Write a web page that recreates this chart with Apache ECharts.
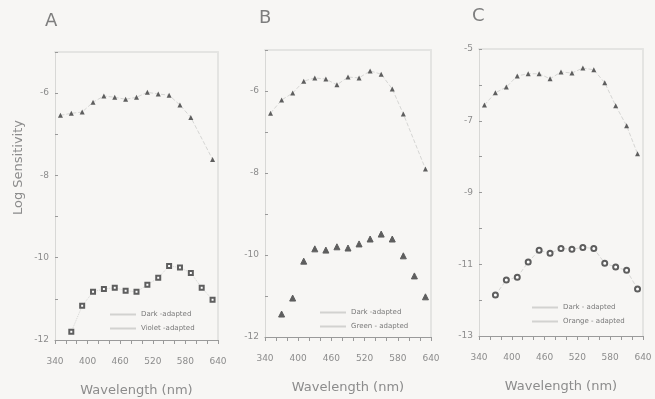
<!DOCTYPE html>
<html>
<head>
<meta charset="utf-8">
<script src="https://cdn.jsdelivr.net/npm/echarts@6/dist/echarts.min.js"></script>
<style>
  html, body { margin: 0; padding: 0; background: #f7f6f4; }
  #chart { width: 655px; height: 399px; }
</style>
</head>
<body>
<div id="chart"></div>
<script>
// data (wavelength in nm, log sensitivity)
var wlA_dark = [350, 370, 390, 410, 430, 450, 470, 490, 510, 530, 550, 570, 590, 630]
var valA_dark = [-6.54, -6.49, -6.46, -6.22, -6.07, -6.10, -6.15, -6.10, -5.98, -6.02, -6.05, -6.29, -6.59, -7.61]
var wlA_violet = [370, 390, 410, 430, 450, 470, 490, 510, 530, 550, 570, 590, 610, 630]
var valA_violet = [-11.80, -11.17, -10.83, -10.76, -10.73, -10.80, -10.83, -10.66, -10.49, -10.20, -10.24, -10.37, -10.73, -11.02]

var wlB_dark = [350, 370, 390, 410, 430, 450, 470, 490, 510, 530, 550, 570, 590, 630]
var valB_dark = [-6.54, -6.22, -6.05, -5.76, -5.68, -5.71, -5.85, -5.66, -5.68, -5.51, -5.59, -5.95, -6.56, -7.90]
var wlB_green = [370, 390, 410, 430, 450, 470, 490, 510, 530, 550, 570, 590, 610, 630]
var valB_green = [-11.44, -11.05, -10.15, -9.85, -9.88, -9.80, -9.83, -9.73, -9.61, -9.49, -9.61, -10.02, -10.51, -11.02]

var wlC_dark = [350, 370, 390, 410, 430, 450, 470, 490, 510, 530, 550, 570, 590, 610, 630]
var valC_dark = [-6.56, -6.22, -6.06, -5.75, -5.69, -5.69, -5.83, -5.64, -5.67, -5.53, -5.58, -5.94, -6.58, -7.14, -7.92]
var wlC_orange = [370, 390, 410, 430, 450, 470, 490, 510, 530, 550, 570, 590, 610, 630]
var valC_orange = [-11.86, -11.44, -11.36, -10.94, -10.61, -10.69, -10.56, -10.58, -10.53, -10.56, -10.97, -11.08, -11.17, -11.69]

var xLabels = [340, 400, 460, 520, 580, 640]
var xTicks = [340, 360, 380, 400, 420, 440, 460, 480, 500, 520, 540, 560, 580, 600, 620, 640]
var yLabelsAB = [-12, -10, -8, -6]
var yLabelsC = [-13, -11, -9, -7, -5]

var panelNames = ['A', 'B', 'C']
var legendNames = [['Dark -adapted', 'Violet -adapted'], ['Dark -adapted', 'Green - adapted'], ['Dark - adapted', 'Orange - adapted']]

function zip(xs, ys) {
    return xs.map(function(x, i) { return [x, ys[i]] })
}

var textCol = '#8c8c8c'
var markCol = '#5e5e5e'
var frameCol = '#e4e4e2'
var font = 'DejaVu Sans'

var grids = [
    { left: 55, right: 437, top: 52, bottom: 59, outerBoundsMode: 'none' },
    { left: 265, right: 224, top: 50, bottom: 62, outerBoundsMode: 'none' },
    { left: 479, right: 12, top: 49, bottom: 63, outerBoundsMode: 'none' }
]

var xAxes = [], yAxes = []
grids.forEach(function(g, i) {
    xAxes.push({
        type: 'value', gridIndex: i, min: 340, max: 640,
        name: 'Wavelength (nm)', nameLocation: 'middle', nameGap: 44,
        nameTextStyle: { color: textCol, fontSize: 13, fontFamily: font },
        axisLine: { lineStyle: { color: '#9a9a9a', width: 1 } },
        axisTick: { customValues: xTicks, length: 4, lineStyle: { color: '#9a9a9a' } },
        axisLabel: { customValues: xLabels, margin: 17, color: textCol, fontSize: 9, fontFamily: font },
        splitLine: { show: false }
    })
    // faint top border of the frame
    xAxes.push({
        type: 'value', gridIndex: i, position: 'top', min: 340, max: 640,
        axisLine: { show: true, lineStyle: { color: frameCol, width: 2 } },
        axisTick: { show: false }, axisLabel: { show: false }, splitLine: { show: false }
    })
    var isC = i == 2
    yAxes.push({
        type: 'value', gridIndex: i, min: isC ? -13 : -12, max: -5, interval: 1,
        axisLine: { show: true, lineStyle: { color: '#d8d8d6', width: 1 } },
        axisTick: { show: true, inside: true, length: 3, lineStyle: { color: '#9a9a9a' } },
        axisLabel: { customValues: isC ? yLabelsC : yLabelsAB, margin: 6, color: textCol, fontSize: 9, fontFamily: font },
        splitLine: { show: false }
    })
    // faint right border
    yAxes.push({
        type: 'value', gridIndex: i, position: 'right', min: isC ? -13 : -12, max: -5,
        axisLine: { show: true, lineStyle: { color: frameCol, width: 2 } },
        axisTick: { show: false }, axisLabel: { show: false }, splitLine: { show: false }
    })
})

function darkSeries(idx, data, name) {
    return {
        name: name, type: 'line', xAxisIndex: idx * 2, yAxisIndex: idx * 2,
        data: data, symbol: 'triangle', symbolSize: 5,
        itemStyle: { color: markCol },
        lineStyle: { color: '#d6d6d4', width: 1, type: 'dashed' },
        emphasis: { disabled: true }
    }
}

function lightSeries(idx, data, name, symbol, size, lineType) {
    return {
        name: name, type: 'line', xAxisIndex: idx * 2, yAxisIndex: idx * 2,
        data: data, symbol: symbol, symbolSize: size,
        itemStyle: { color: markCol, borderColor: markCol, borderWidth: 1 },
        lineStyle: { color: '#d6d6d4', width: 1, type: lineType },
        emphasis: { disabled: true }
    }
}

var series = [
    darkSeries(0, zip(wlA_dark, valA_dark), legendNames[0][0]),
    lightSeries(0, zip(wlA_violet, valA_violet), legendNames[0][1], 'emptyRect', 4, 'dotted'),
    darkSeries(1, zip(wlB_dark, valB_dark), legendNames[1][0] + ' '),
    lightSeries(1, zip(wlB_green, valB_green), legendNames[1][1], 'triangle', 6, [0, 100]),
    darkSeries(2, zip(wlC_dark, valC_dark), legendNames[2][0]),
    lightSeries(2, zip(wlC_orange, valC_orange), legendNames[2][1], 'emptyCircle', 5, 'dashed')
]

var legendPos = [[105, 306], [315, 304], [527, 299]]
var legendIcon = { color: '#d2d2d0', borderColor: '#d2d2d0', borderWidth: 0 }
var legends = legendPos.map(function(p, i) {
    var n = legendNames[i]
    return {
        left: p[0], top: p[1], orient: 'vertical', itemGap: 7,
        itemWidth: 26, itemHeight: 2, icon: 'rect', selectedMode: false,
        textStyle: { color: '#7a7a7a', fontSize: 7, fontFamily: font },
        data: [
            { name: i == 1 ? n[0] + ' ' : n[0], itemStyle: legendIcon },
            { name: n[1], itemStyle: legendIcon }
        ],
        formatter: function(name) { return name.trim() }
    }
})

var letterPos = [[45, 12], [259, 9], [472, 7]]
var graphics = letterPos.map(function(p, i) {
    return {
        type: 'text', left: p[0], top: p[1],
        style: { text: panelNames[i], fill: '#7e7e7e', font: '18px ' + font }
    }
})
graphics.push({
    type: 'text', left: 12, top: 120, rotation: Math.PI / 2,
    style: { text: 'Log Sensitivity', fill: textCol, font: '13px ' + font }
})

var chart = echarts.init(document.getElementById('chart'))
chart.setOption({
    backgroundColor: '#f7f6f4',
    animation: false,
    grid: grids,
    xAxis: xAxes,
    yAxis: yAxes,
    legend: legends,
    graphic: graphics,
    series: series
})
</script>
</body>
</html>
